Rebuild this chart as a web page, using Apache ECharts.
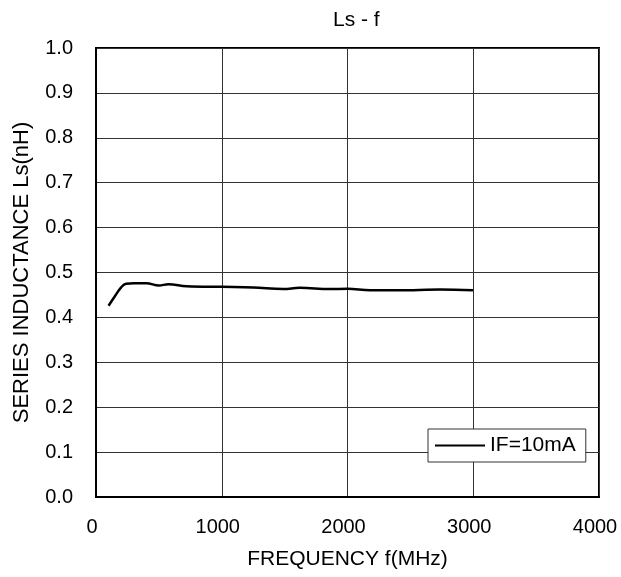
<!DOCTYPE html>
<html>
<head>
<meta charset="utf-8">
<style>html,body{margin:0;padding:0;background:#fff;}#c{width:621px;height:577px;}</style>
<script src="https://cdn.jsdelivr.net/npm/echarts@6/dist/echarts.min.js"></script>
</head>
<body>
<div id="c"></div>
<script>
var freq = [100, 150, 200, 240, 300, 400, 500, 575, 720, 1000, 1250, 1490, 1620, 1860, 2000, 2180, 2520, 2735, 3000];
var ls   = [0.426, 0.447, 0.467, 0.475, 0.476, 0.476, 0.471, 0.474, 0.4696, 0.468, 0.4667, 0.463, 0.466, 0.463, 0.4637, 0.4607, 0.4607, 0.4622, 0.4607];
var seriesName = 'IF=10mA';
var titleText = 'Ls - f';
var xName = 'FREQUENCY f(MHz)';
var yName = 'SERIES INDUCTANCE Ls(nH)';

var font = 'Arial, "Liberation Sans", sans-serif';
var chart = echarts.init(document.getElementById('c'), null, {renderer: 'canvas'});
chart.setOption({
  animation: false,
  backgroundColor: '#fff',
  title: {text: titleText, left: 328, top: 5, textStyle: {fontFamily: font, fontSize: 21, fontWeight: 'normal', color: '#000'}},
  grid: {left: 96, right: 22, top: 48, bottom: 80, show: true, borderColor: '#000', borderWidth: 2, containLabel: false},
  legend: {
    data: [{name: seriesName, icon: 'rect'}], left: 428, top: 429, orient: 'vertical',
    backgroundColor: '#fff', borderColor: '#333', borderWidth: 1, borderRadius: 0,
    padding: [6, 10, 6, 7], itemWidth: 50, itemHeight: 2, itemGap: 0,
    itemStyle: {color: '#000'},
    textStyle: {fontFamily: font, fontSize: 21, color: '#000'}
  },
  xAxis: {
    type: 'value', min: 0, max: 4000, interval: 1000,
    name: xName, nameLocation: 'middle', nameGap: 52,
    nameTextStyle: {fontFamily: font, fontSize: 21, color: '#000'},
    axisLine: {show: true, lineStyle: {color: '#000', width: 2}},
    axisTick: {show: false},
    axisLabel: {fontFamily: font, fontSize: 20, color: '#000', margin: 20, padding: [0, 8, 0, 0], formatter: function(v){return String(v);}},
    splitLine: {show: true, lineStyle: {color: '#333', width: 1}}
  },
  yAxis: {
    type: 'value', min: 0, max: 1, interval: 0.1,
    name: yName, nameLocation: 'middle', nameGap: 63,
    nameTextStyle: {fontFamily: font, fontSize: 22, color: '#000'},
    axisLine: {show: true, lineStyle: {color: '#000', width: 2}},
    axisTick: {show: false},
    axisLabel: {fontFamily: font, fontSize: 20, color: '#000', margin: 23, formatter: function(v){return v.toFixed(1);}},
    splitLine: {show: true, lineStyle: {color: '#333', width: 1}}
  },
  series: [{
    name: seriesName, type: 'line', smooth: 0.4, symbol: 'none',
    lineStyle: {color: '#000', width: 2.5},
    itemStyle: {color: '#000'},
    data: freq.map(function(f, i){return [f, ls[i]];})
  }]
});
</script>
</body>
</html>
